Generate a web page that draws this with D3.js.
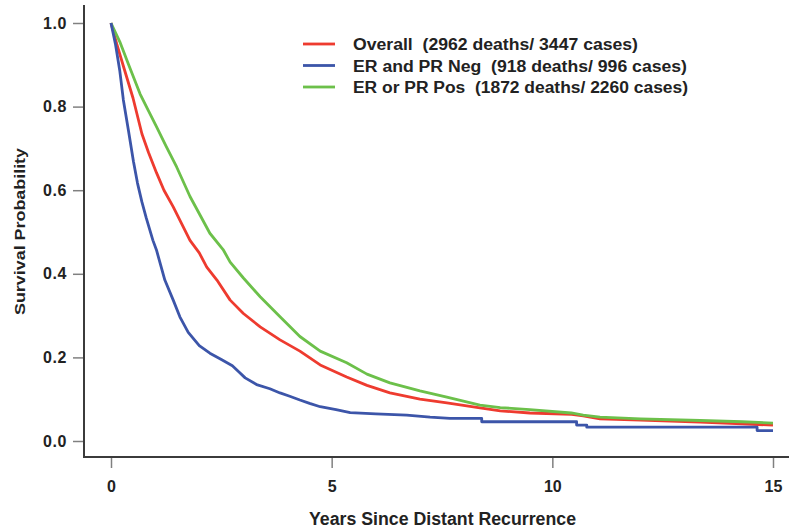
<!DOCTYPE html>
<html>
<head>
<meta charset="utf-8">
<script src="https://cdn.jsdelivr.net/npm/d3@7"></script>
<style>
  html, body { margin: 0; padding: 0; background: #fff; }
  svg { display: block; font-family: "Liberation Sans", Arial, sans-serif; }
</style>
</head>
<body>
<svg id="chart" width="789" height="531"></svg>
<script>
// Kaplan-Meier survival after distant recurrence, by hormone receptor status
const xTicks = [0, 5, 10, 15];
const yTicks = [0.0, 0.2, 0.4, 0.6, 0.8, 1.0];

const overallTimes = [0, 0.13, 0.3, 0.5, 0.7, 0.85, 1.03, 1.2, 1.41, 1.6, 1.79, 2.0, 2.17, 2.4, 2.7, 3.0, 3.38, 3.83, 4.28, 4.74, 5.34, 5.8, 6.32, 7.0, 7.61, 8.36, 8.82, 9.49, 10.44, 10.7, 11.08, 12.0, 13.35, 14.3, 15];
const overallSurv  = [1, 0.95, 0.89, 0.82, 0.735, 0.69, 0.642, 0.60, 0.56, 0.52, 0.48, 0.45, 0.416, 0.385, 0.337, 0.305, 0.273, 0.242, 0.215, 0.182, 0.153, 0.133, 0.115, 0.10, 0.091, 0.079, 0.072, 0.067, 0.064, 0.06, 0.053, 0.05, 0.045, 0.041, 0.038];

const negTimes = [0, 0.1, 0.2, 0.28, 0.4, 0.51, 0.6, 0.7, 0.8, 0.95, 1.03, 1.22, 1.41, 1.56, 1.75, 2.0, 2.24, 2.5, 2.75, 2.9, 3.04, 3.3, 3.6, 3.83, 4.05, 4.28, 4.5, 4.74, 5.1, 5.42, 6.0, 6.7, 7.23, 7.68, 8.4, 8.4, 10.55, 10.55, 10.78, 10.78, 14.64, 14.64, 15];
const negSurv  = [1, 0.95, 0.885, 0.816, 0.74, 0.668, 0.617, 0.572, 0.533, 0.48, 0.457, 0.385, 0.337, 0.297, 0.26, 0.228, 0.21, 0.195, 0.18, 0.165, 0.151, 0.135, 0.125, 0.115, 0.107, 0.098, 0.09, 0.082, 0.075, 0.068, 0.065, 0.062, 0.057, 0.054, 0.054, 0.046, 0.046, 0.038, 0.038, 0.033, 0.033, 0.025, 0.025];

const posTimes = [0, 0.2, 0.4, 0.66, 0.85, 1.03, 1.25, 1.49, 1.79, 2.02, 2.24, 2.54, 2.7, 3.0, 3.38, 3.83, 4.28, 4.74, 5.34, 5.8, 6.32, 7.0, 7.61, 8.36, 8.82, 9.49, 10.43, 10.7, 11.08, 12.0, 13.35, 14.3, 15];
const posSurv  = [1, 0.955, 0.90, 0.83, 0.79, 0.752, 0.705, 0.655, 0.585, 0.54, 0.497, 0.458, 0.428, 0.39, 0.345, 0.297, 0.25, 0.215, 0.187, 0.16, 0.139, 0.12, 0.105, 0.086, 0.08, 0.075, 0.067, 0.062, 0.057, 0.053, 0.049, 0.046, 0.043];

const seriesNames = [
  "Overall  (2962 deaths/ 3447 cases)",
  "ER and PR Neg  (918 deaths/ 996 cases)",
  "ER or PR Pos  (1872 deaths/ 2260 cases)"
];
const seriesColors = ["#ee3b2f", "#3c55a9", "#6cc04a"];
const legendWidths = [285, 334, 335];

const series = [
  { name: seriesNames[0], color: seriesColors[0], pts: overallTimes.map((t, i) => [t, overallSurv[i]]) },
  { name: seriesNames[1], color: seriesColors[1], pts: negTimes.map((t, i) => [t, negSurv[i]]) },
  { name: seriesNames[2], color: seriesColors[2], pts: posTimes.map((t, i) => [t, posSurv[i]]) }
];

const svg = d3.select("#chart");

const x = d3.scaleLinear().domain([0, 15]).range([111, 773]);
const y = d3.scaleLinear().domain([0, 1]).range([441, 23]);

const frameLeft = 84, frameBottom = 457;

// frame lines
svg.append("line")
  .attr("x1", frameLeft).attr("x2", frameLeft)
  .attr("y1", 5).attr("y2", frameBottom + 1)
  .attr("stroke", "#3b3b3b").attr("stroke-width", 2);
svg.append("line")
  .attr("x1", frameLeft - 1).attr("x2", 789)
  .attr("y1", frameBottom).attr("y2", frameBottom)
  .attr("stroke", "#3b3b3b").attr("stroke-width", 2);

// y axis
const yAxis = svg.append("g")
  .attr("transform", `translate(${frameLeft - 1},0)`)
  .call(d3.axisLeft(y).tickValues(yTicks).tickFormat(d3.format(".1f")).tickSize(10).tickPadding(6));
yAxis.select(".domain").remove();
yAxis.selectAll(".tick line").attr("stroke", "#808080").attr("stroke-width", 1.5);
yAxis.selectAll(".tick text")
  .attr("fill", "#222")
  .style("font-size", "16px").style("font-weight", "bold")
  .style("letter-spacing", "0.6px");

// x axis
const xAxis = svg.append("g")
  .attr("transform", `translate(0,${frameBottom + 1})`)
  .call(d3.axisBottom(x).tickValues(xTicks).tickFormat(d3.format("d")).tickSize(10).tickPadding(13));
xAxis.select(".domain").remove();
xAxis.selectAll(".tick line").attr("stroke", "#808080").attr("stroke-width", 1.5);
xAxis.selectAll(".tick text")
  .attr("fill", "#222")
  .style("font-size", "16px").style("font-weight", "bold");

// axis titles
svg.append("text")
  .attr("x", 309).attr("y", 525)
  .attr("textLength", 267).attr("lengthAdjust", "spacingAndGlyphs")
  .attr("fill", "#222")
  .style("font-size", "18px").style("font-weight", "bold")
  .text("Years Since Distant Recurrence");

svg.append("text")
  .attr("transform", "translate(25,315) rotate(-90)")
  .attr("textLength", 167).attr("lengthAdjust", "spacingAndGlyphs")
  .attr("fill", "#222")
  .style("font-size", "15px").style("font-weight", "bold")
  .text("Survival Probability");

// survival curves
const line = d3.line().x(d => x(d[0])).y(d => y(d[1])).curve(d3.curveLinear);
svg.append("g").selectAll("path")
  .data([series[0], series[2], series[1]])
  .join("path")
  .attr("d", d => line(d.pts))
  .attr("fill", "none")
  .attr("stroke", d => d.color)
  .attr("stroke-width", 2.8)
  .attr("stroke-linejoin", "round");

// legend
const legend = svg.append("g");
series.forEach((s, i) => {
  const ly = 44 + i * 21.5;
  legend.append("line")
    .attr("x1", 303).attr("x2", 335)
    .attr("y1", ly).attr("y2", ly)
    .attr("stroke", s.color).attr("stroke-width", 2.8);
  legend.append("text")
    .attr("x", 353).attr("y", ly + 6)
    .attr("textLength", legendWidths[i]).attr("lengthAdjust", "spacingAndGlyphs")
    .attr("fill", "#222")
    .style("font-size", "16px").style("font-weight", "bold")
    .style("white-space", "pre")
    .text(s.name);
});
</script>
</body>
</html>
